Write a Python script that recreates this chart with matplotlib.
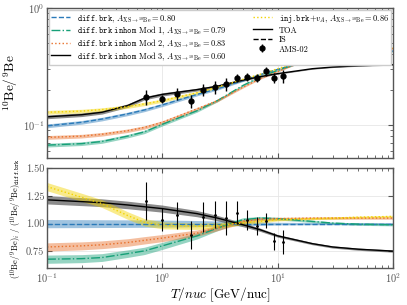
import numpy as np
import matplotlib
matplotlib.use('Agg')
import matplotlib.pyplot as plt

plt.rcParams['font.family'] = 'serif'
plt.rcParams['font.serif'] = ['cmr10']
plt.rcParams['mathtext.fontset'] = 'cm'
plt.rcParams['axes.formatter.use_mathtext'] = True

# energy grid [GeV/nuc]
energy = [0.1, 0.2, 0.3, 0.5, 0.7, 1, 2, 3, 5, 7, 10, 20, 30, 50, 100]

# 10Be/9Be (TOA) for each model
be_diffbrk = [0.098, 0.105, 0.112, 0.124, 0.134, 0.148, 0.182, 0.203, 0.239, 0.268, 0.298, 0.361, 0.393, 0.415, 0.428]
be_mod1 = [0.067, 0.069, 0.072, 0.080, 0.087, 0.101, 0.132, 0.161, 0.217, 0.256, 0.292, 0.368, 0.395, 0.413, 0.424]
be_mod2 = [0.078, 0.080, 0.083, 0.089, 0.095, 0.105, 0.137, 0.161, 0.210, 0.248, 0.286, 0.379, 0.413, 0.436, 0.449]
be_mod3 = [0.117, 0.122, 0.128, 0.146, 0.169, 0.182, 0.200, 0.214, 0.241, 0.258, 0.274, 0.302, 0.312, 0.320, 0.327]
be_injbrk = [0.128, 0.131, 0.135, 0.143, 0.151, 0.161, 0.188, 0.210, 0.245, 0.270, 0.302, 0.377, 0.413, 0.439, 0.456]

# ratio to diff.brk
r_diffbrk = [1.0] * 15
r_mod1 = [0.68, 0.685, 0.695, 0.73, 0.755, 0.80, 0.89, 0.96, 1.035, 1.05, 1.045, 1.02, 1.005, 0.995, 0.99]
r_mod2 = [0.79, 0.80, 0.81, 0.83, 0.85, 0.87, 0.915, 0.96, 1.02, 1.04, 1.045, 1.05, 1.05, 1.05, 1.05]
r_mod3 = [1.214, 1.198, 1.188, 1.168, 1.152, 1.135, 1.09, 1.05, 0.99, 0.946, 0.89, 0.82, 0.79, 0.77, 0.753]
r_injbrk = [1.333, 1.237, 1.18, 1.073, 1.012, 0.985, 0.976, 0.985, 1.006, 1.02, 1.036, 1.045, 1.05, 1.058, 1.065]

# relative band half-width
band_rel = [0.037, 0.036, 0.035, 0.034, 0.033, 0.032, 0.028, 0.024, 0.018, 0.015, 0.012, 0.01, 0.01, 0.01, 0.01]

# AMS-02
ams_e = [0.72, 1.0, 1.33, 1.76, 2.27, 2.86, 3.57, 4.42, 5.46, 6.59, 7.89, 9.36, 11.07]
ams_be = [0.174, 0.167, 0.184, 0.159, 0.200, 0.210, 0.224, 0.253, 0.256, 0.253, 0.287, 0.251, 0.261]
ams_err = [0.025, 0.013, 0.021, 0.020, 0.022, 0.026, 0.028, 0.021, 0.020, 0.020, 0.025, 0.025, 0.032]
ams_ratio = [1.205, 1.036, 1.074, 0.90, 1.056, 1.08, 1.05, 1.10, 1.036, 0.976, 1.027, 0.84, 0.836]
ams_ratio_err = [0.17, 0.105, 0.125, 0.125, 0.135, 0.12, 0.155, 0.105, 0.09, 0.08, 0.07, 0.08, 0.11]

A = r'$A_{\mathrm{XS}\rightarrow{}^{10}\mathrm{Be}} = '
models = [
    (r'$\mathtt{diff.brk}$, ' + A + '0.80$', be_diffbrk, r_diffbrk, '#2a7ab9', '--'),
    (r'$\mathtt{diff.brk\ inhom}$ Mod 1, ' + A + '0.79$', be_mod1, r_mod1, '#17a078', '-.'),
    (r'$\mathtt{diff.brk\ inhom}$ Mod 2, ' + A + '0.83$', be_mod2, r_mod2, '#e8702a', ':'),
    (r'$\mathtt{diff.brk\ inhom}$ Mod 3, ' + A + '0.60$', be_mod3, r_mod3, 'black', '-'),
    (r'$\mathtt{inj.brk}$+$v_A$, ' + A + '0.86$', be_injbrk, r_injbrk, '#f2d300', ':'),
]

fig = plt.figure(figsize=(4.07, 3.05), dpi=100)
ax1 = fig.add_axes([0.1155, 0.482, 0.850, 0.492])
ax2 = fig.add_axes([0.1155, 0.121, 0.850, 0.328])

e = np.array(energy)
band = np.array(band_rel)
for label, top, rat, col, ls in models:
    top = np.array(top)
    rat = np.array(rat)
    ax1.fill_between(e, top * (1 - band), top * (1 + band), color=col, alpha=0.45, lw=0)
    ax1.plot(e, top, color=col, ls=ls, lw=1.0, label=label)
    ax2.fill_between(e, rat - band, rat + band, color=col, alpha=0.45, lw=0)
    ax2.plot(e, rat, color=col, ls=ls, lw=1.0)

ax1.plot([], [], color='black', ls='-', lw=1.0, label='TOA')
ax1.plot([], [], color='black', ls='--', lw=1.0, label='IS')
ax1.errorbar(ams_e, ams_be, yerr=ams_err, fmt='o', color='black', ms=3.5, elinewidth=1, capsize=0, label='AMS-02')
ax2.errorbar(ams_e, ams_ratio, yerr=ams_ratio_err, fmt='.', color='black', ms=2, elinewidth=0.8, capsize=0)

for ax in [ax1, ax2]:
    ax.set_xscale('log')
    ax.set_xlim(0.1, 100)
    ax.grid(True, which='major', color='#e6e6e6', lw=0.6)
    ax.set_axisbelow(True)
    ax.tick_params(which='both', direction='in', top=True, right=True, colors='#555555', labelsize=7.5, pad=2)
    ax.tick_params(which='major', length=3.5)
    ax.tick_params(which='minor', length=2)
    for s in ax.spines.values():
        s.set_color('#555555')
        s.set_linewidth(1.0)

ax1.set_yscale('log')
ax1.set_ylim(0.052, 1.0)
ax1.tick_params(labelbottom=False)
ax1.set_ylabel(r'$^{10}\mathrm{Be}/^{9}\mathrm{Be}$', fontsize=9.5, labelpad=2)
# tall handle boxes keep both legend columns on the same row pitch
ax1.legend(loc='upper left', bbox_to_anchor=(0.0, 0.995, 1.0, 0.0), mode='expand', ncol=2,
           fontsize=6, frameon=True, fancybox=False, edgecolor='#cccccc', framealpha=1,
           handlelength=2.3, handleheight=1.35, borderpad=0.3, labelspacing=0.03, borderaxespad=0.2)

ax2.set_ylim(0.6, 1.5)
ax2.set_yticks([0.75, 1.0, 1.25, 1.5])
ax2.set_yticklabels(['0.75', '1.00', '1.25', '1.50'])
ax2.set_ylabel(r'$(^{10}\mathrm{Be}/^{9}\mathrm{Be})_i\ /\ (^{10}\mathrm{Be}/^{9}\mathrm{Be})_{\mathtt{diff.brk}}$', fontsize=6, labelpad=2)
ax2.set_xlabel(r'$T/nuc$ [GeV/nuc]', fontsize=9.5, labelpad=1)

fig.align_ylabels([ax1, ax2])
plt.savefig('out.png', dpi=100)
